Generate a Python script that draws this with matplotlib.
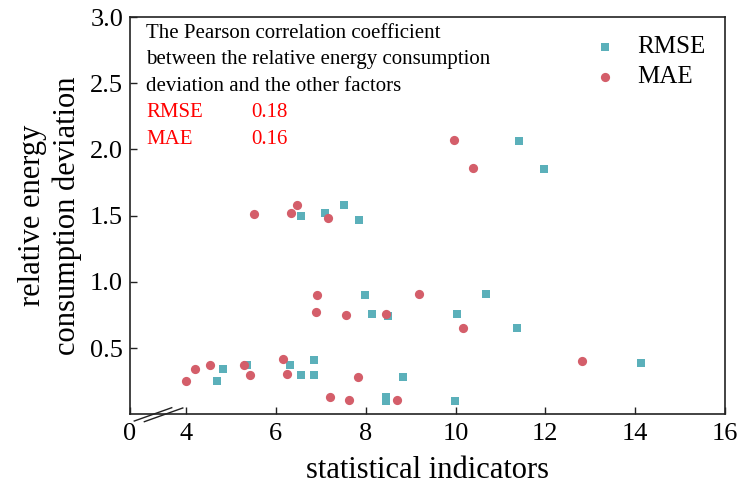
import numpy as np
import matplotlib
matplotlib.use("Agg")
import matplotlib.pyplot as plt

plt.rcParams["font.family"] = ["Liberation Serif", "DejaVu Serif"]

# ── data ──────────────────────────────────────────────────────────
rmse_x = [4.68, 4.82, 5.35, 6.32, 6.55, 6.84, 6.86, 8.45, 8.45, 8.82, 9.99,
          6.57, 7.10, 7.51, 7.85, 7.99, 8.14, 8.49, 10.04, 10.68, 11.37,
          11.42, 11.98, 14.13]
rmse_y = [0.25, 0.34, 0.37, 0.37, 0.30, 0.41, 0.30, 0.13, 0.10, 0.28, 0.10,
          1.50, 1.52, 1.58, 1.47, 0.90, 0.76, 0.74, 0.755, 0.905, 0.65,
          2.06, 1.85, 0.39]

mae_x = [3.98, 4.20, 4.54, 5.28, 5.43, 6.17, 6.25, 7.20, 7.63, 7.82, 8.70,
         12.82, 5.51, 6.34, 6.46, 7.16, 6.91, 6.90, 7.57, 8.45, 9.19, 10.16,
         9.96, 10.39]
mae_y = [0.25, 0.34, 0.37, 0.375, 0.30, 0.42, 0.305, 0.13, 0.11, 0.28, 0.105,
         0.40, 1.51, 1.52, 1.58, 1.48, 0.90, 0.77, 0.75, 0.76, 0.91, 0.65,
         2.07, 1.86]

metrics = ["RMSE", "MAE"]
pearson = [0.18, 0.16]
note_lines = ["The Pearson correlation coefficient",
              "between the relative energy consumption",
              "deviation and the other factors"]

x_ticks = [0, 4, 6, 8, 10, 12, 14, 16]
y_ticks = [0.5, 1.0, 1.5, 2.0, 2.5, 3.0]

TEAL = "#5BB0BA"
RED = "#D45E6A"

# x axis is broken between 0 and 4: squeeze that stretch
X_LEFT = 2.753


def to_axis(x):
    x = np.asarray(x, dtype=float)
    return np.where(x >= 4, x, X_LEFT + x * (4 - X_LEFT) / 4)


fig = plt.figure(figsize=(7.4, 4.9), dpi=100)
ax = fig.add_axes([0.1757, 0.1545, 0.8040, 0.8108])

ax.scatter(to_axis(rmse_x), rmse_y, marker="s", s=34, color=TEAL,
           linewidths=0, label="RMSE", zorder=3)
ax.scatter(to_axis(mae_x), mae_y, marker="o", s=44, color=RED,
           linewidths=0, label="MAE", zorder=4)

ax.set_xlim(X_LEFT, 16)
ax.set_ylim(0, 3.0)
ax.set_xticks(to_axis(x_ticks))
ax.set_xticklabels([str(t) for t in x_ticks])
ax.set_yticks(y_ticks)
ax.set_yticklabels([f"{t:.1f}" for t in y_ticks])
ax.tick_params(direction="in", labelsize=19, width=1.0, length=5,
               colors="#222222", labelcolor="black")
ax.tick_params(axis="x", pad=6)
ax.tick_params(axis="y", pad=5)
for sp in ax.spines.values():
    sp.set_linewidth(1.2)
    sp.set_color("#222222")

ax.set_xlabel("statistical indicators", fontsize=22, labelpad=8)
ax.set_ylabel("relative energy\nconsumption deviation", fontsize=22,
              labelpad=6, linespacing=1.25)

# axis break marks
for x0, y0, x1, y1 in [(0.0072, -0.0169, 0.0701, 0.0166),
                       (0.0241, -0.0186, 0.0887, 0.0159)]:
    ax.plot([x0, x1], [y0, y1], transform=ax.transAxes, color="#222222",
            lw=1.0, clip_on=False, zorder=5)

# correlation note
tx = 0.027
for i, line in enumerate(note_lines):
    ax.text(tx, 0.948 - i * 0.0668, line, transform=ax.transAxes,
            fontsize=15, va="baseline", ha="left")
for j, (name, val) in enumerate(zip(metrics, pearson)):
    yy = 0.948 - (3 + j) * 0.0668
    ax.text(tx, yy, name, transform=ax.transAxes, fontsize=15,
            color="red", va="baseline", ha="left")
    ax.text(0.204, yy, f"{val:.2f}", transform=ax.transAxes, fontsize=15,
            color="red", va="baseline", ha="left")

ax.legend(loc="upper right", bbox_to_anchor=(0.993, 0.99), frameon=False,
          fontsize=18, handletextpad=0.3, markerscale=1.0,
          labelspacing=0.3, borderaxespad=0.2)

fig.savefig("out.png", dpi=100)
